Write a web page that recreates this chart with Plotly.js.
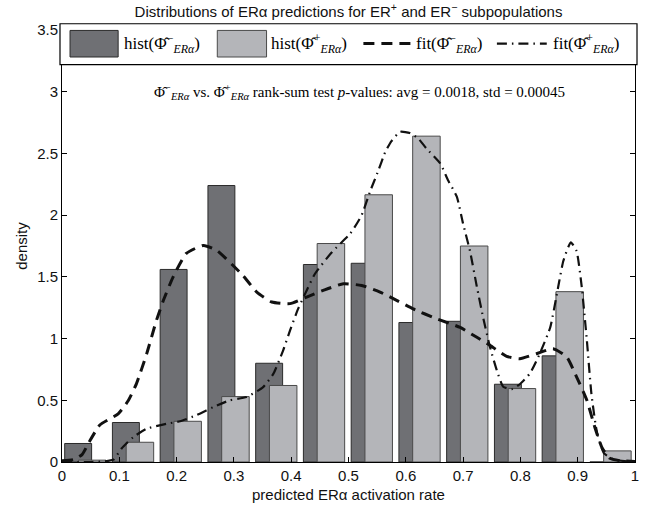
<!DOCTYPE html>
<html>
<head>
<meta charset="utf-8">
<script src="https://cdn.plot.ly/plotly-3.0.1.min.js"></script>
<style>html,body{margin:0;padding:0;background:#fff;}</style>
</head>
<body>
<div id="chart" style="width:658px;height:507px;"></div>
<script>
// Histogram bin centres (12 bins over [0,1])
const binCenters = [0.0417, 0.125, 0.2083, 0.2917, 0.375, 0.4583, 0.5417, 0.625, 0.7083, 0.7917, 0.875, 0.9583];
// Densities, ER- subpopulation
const histNeg = [0.15, 0.32, 1.56, 2.24, 0.80, 1.60, 1.61, 1.13, 1.14, 0.63, 0.86, 0.0];
// Densities, ER+ subpopulation
const histPos = [0.015, 0.16, 0.33, 0.53, 0.62, 1.77, 2.165, 2.64, 1.75, 0.595, 1.38, 0.09];

// Fitted density, ER-
const fitNegX = [0, 0.02, 0.035, 0.046, 0.066, 0.098, 0.116, 0.130, 0.148, 0.165, 0.177, 0.194, 0.217, 0.247, 0.270, 0.299, 0.316, 0.340, 0.366, 0.398, 0.427, 0.456, 0.491, 0.523, 0.555, 0.584, 0.613, 0.654, 0.695, 0.724, 0.747, 0.776, 0.799, 0.828, 0.857, 0.881, 0.898, 0.916, 0.930, 0.942, 0.956, 0.975, 1.0];
const fitNegY = [0.01, 0.02, 0.06, 0.15, 0.30, 0.39, 0.50, 0.635, 0.88, 1.15, 1.31, 1.50, 1.69, 1.755, 1.715, 1.59, 1.51, 1.376, 1.296, 1.283, 1.336, 1.39, 1.444, 1.43, 1.377, 1.31, 1.24, 1.16, 1.09, 1.01, 0.945, 0.856, 0.837, 0.877, 0.918, 0.85, 0.69, 0.50, 0.28, 0.12, 0.03, 0.01, 0.005];

// Fitted density, ER+
const fitPosX = [0, 0.05, 0.075, 0.090, 0.104, 0.124, 0.148, 0.183, 0.206, 0.235, 0.264, 0.293, 0.322, 0.351, 0.369, 0.386, 0.398, 0.412, 0.427, 0.4415, 0.471, 0.503, 0.523, 0.5375, 0.552, 0.564, 0.575, 0.590, 0.607, 0.622, 0.636, 0.660, 0.674, 0.689, 0.700, 0.712, 0.724, 0.735, 0.747, 0.759, 0.770, 0.785, 0.799, 0.817, 0.834, 0.852, 0.866, 0.875, 0.888, 0.898, 0.907, 0.916, 0.924, 0.934, 0.946, 0.963, 1.0];
const fitPosY = [0.0, 0.0, 0.005, 0.02, 0.11, 0.20, 0.27, 0.31, 0.33, 0.38, 0.445, 0.50, 0.526, 0.607, 0.716, 0.905, 1.066, 1.24, 1.39, 1.525, 1.70, 1.85, 2.0, 2.19, 2.36, 2.51, 2.60, 2.675, 2.665, 2.62, 2.54, 2.42, 2.28, 2.15, 1.93, 1.71, 1.42, 1.17, 0.93, 0.74, 0.61, 0.59, 0.63, 0.72, 0.88, 1.09, 1.42, 1.63, 1.78, 1.71, 1.42, 0.985, 0.55, 0.23, 0.07, 0.02, 0.0];

const xTicks = [0, 0.1, 0.2, 0.3, 0.4, 0.5, 0.6, 0.7, 0.8, 0.9, 1];
const yTicks = [0, 0.5, 1, 1.5, 2, 2.5, 3, 3.5];

const PHI = '\u03A6\u0302';
const SUB = '<sub><i>ERα</i></sub>';
const seriesNames = [
  'hist(' + PHI + '<sup>−</sup>' + SUB + ')',
  'hist(' + PHI + '<sup>+</sup>' + SUB + ')',
  'fit(' + PHI + '<sup>−</sup>' + SUB + ')',
  'fit(' + PHI + '<sup>+</sup>' + SUB + ')'
];

const DARK = '#6f7074', LIGHT = '#b4b5b9';
const NEG_DASH = '11px,7px';
const POS_DASH = '10px,5px,1.5px,5px';

const traces = [
  {
    type: 'bar', x: binCenters, y: histNeg, name: seriesNames[0],
    offset: -0.037, width: 0.047,
    marker: {color: DARK, line: {color: '#2b2b2b', width: 1}}, opacity: 1
  },
  {
    type: 'bar', x: binCenters, y: histPos, name: seriesNames[1],
    offset: -0.013, width: 0.048,
    marker: {color: LIGHT, line: {color: '#4a4a4a', width: 1}}, opacity: 1
  },
  {
    type: 'scatter', mode: 'lines', x: fitNegX, y: fitNegY, name: seriesNames[2],
    line: {color: '#111', width: 3, dash: NEG_DASH, shape: 'spline', smoothing: 0.5}
  },
  {
    type: 'scatter', mode: 'lines', x: fitPosX, y: fitPosY, name: seriesNames[3],
    line: {color: '#111', width: 2.2, dash: POS_DASH, shape: 'spline', smoothing: 0.5}
  }
];

// Legend box drawn as a MATLAB-style panel across the top of the axes
const LY = 0.9685; // legend row centre (paper)
const legendFont = {family: 'Liberation Serif, DejaVu Serif, serif', size: 17, color: '#000'};

const layout = {
  width: 658, height: 507,
  margin: {l: 62, r: 23, t: 30, b: 45},
  paper_bgcolor: '#fff', plot_bgcolor: '#fff',
  font: {family: 'Liberation Sans, Arial, sans-serif', size: 15, color: '#000'},
  title: {
    text: 'Distributions of ERα predictions for ER<sup>+</sup> and ER<sup>−</sup> subpopulations',
    font: {size: 15, family: 'Liberation Sans, Arial, sans-serif', color: '#111'},
    x: 0.5, xref: 'paper', y: 0.976, yref: 'container', yanchor: 'middle'
  },
  barmode: 'overlay',
  bargap: 0,
  showlegend: false,
  xaxis: {
    range: [0, 1], tickmode: 'array', tickvals: xTicks, ticktext: xTicks.map(String),
    ticks: 'inside', ticklen: 5, tickcolor: '#000',
    showline: true, linecolor: '#000', linewidth: 1, mirror: true,
    showgrid: false, zeroline: false,
    tickfont: {size: 15, color: '#111'},
    title: {text: 'predicted ERα activation rate', font: {size: 15, color: '#111'}, standoff: 6}
  },
  yaxis: {
    range: [0, 3.5], tickmode: 'array', tickvals: yTicks, ticktext: yTicks.map(String),
    ticks: 'inside', ticklen: 5, tickcolor: '#000',
    showline: true, linecolor: '#000', linewidth: 1, mirror: 'ticks',
    showgrid: false, zeroline: false,
    tickfont: {size: 15, color: '#111'},
    title: {text: 'density', font: {size: 15, color: '#111'}, standoff: 5}
  },
  shapes: [
    // legend panel
    {type: 'rect', xref: 'paper', yref: 'paper', x0: -0.0035, x1: 1.0035, y0: 0.92, y1: 1.0145,
     fillcolor: '#fff', line: {color: '#000', width: 1.2}, layer: 'above'},
    // swatches
    {type: 'rect', xref: 'paper', yref: 'paper', x0: 0.014, x1: 0.098, y0: 0.9375, y1: 0.999,
     fillcolor: DARK, line: {color: '#2b2b2b', width: 1}, layer: 'above'},
    {type: 'rect', xref: 'paper', yref: 'paper', x0: 0.271, x1: 0.357, y0: 0.9375, y1: 0.999,
     fillcolor: LIGHT, line: {color: '#4a4a4a', width: 1}, layer: 'above'},
    {type: 'line', xref: 'paper', yref: 'paper', x0: 0.526, x1: 0.610, y0: LY, y1: LY,
     line: {color: '#111', width: 3, dash: NEG_DASH}, layer: 'above'},
    {type: 'line', xref: 'paper', yref: 'paper', x0: 0.759, x1: 0.846, y0: LY, y1: LY,
     line: {color: '#111', width: 2.2, dash: POS_DASH}, layer: 'above'}
  ],
  annotations: [
    {xref: 'paper', yref: 'paper', x: 0.105, y: LY, xanchor: 'left', yanchor: 'middle',
     showarrow: false, text: seriesNames[0], font: legendFont},
    {xref: 'paper', yref: 'paper', x: 0.361, y: LY, xanchor: 'left', yanchor: 'middle',
     showarrow: false, text: seriesNames[1], font: legendFont},
    {xref: 'paper', yref: 'paper', x: 0.614, y: LY, xanchor: 'left', yanchor: 'middle',
     showarrow: false, text: seriesNames[2], font: legendFont},
    {xref: 'paper', yref: 'paper', x: 0.853, y: LY, xanchor: 'left', yanchor: 'middle',
     showarrow: false, text: seriesNames[3], font: legendFont},
    {
      xref: 'paper', yref: 'y', x: 0.52, y: 3.0, showarrow: false,
      text: PHI + '<sup>−</sup>' + SUB + ' vs. ' + PHI + '<sup>+</sup>' + SUB +
            ' rank-sum test <i>p</i>-values: avg = 0.0018, std = 0.00045',
      font: {family: 'Liberation Serif, DejaVu Serif, serif', size: 15, color: '#000'}
    }
  ]
};

Plotly.newPlot('chart', traces, layout, {staticPlot: true, displayModeBar: false});
</script>
</body>
</html>
